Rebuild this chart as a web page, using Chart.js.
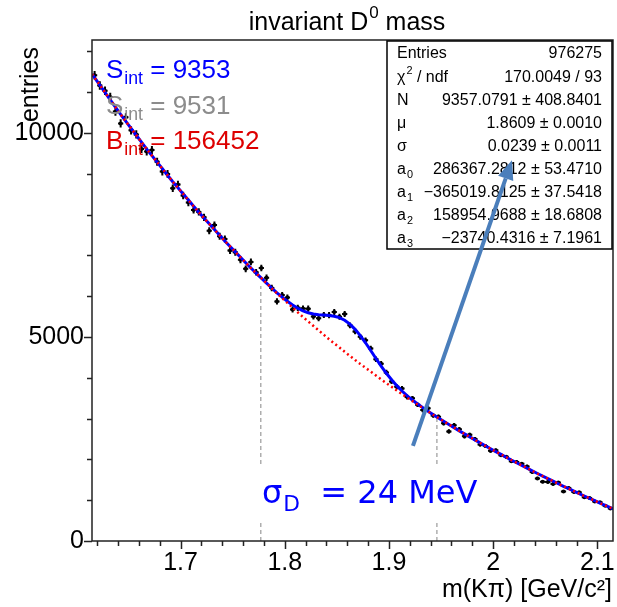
<!DOCTYPE html>
<html>
<head>
<meta charset="utf-8">
<script src="https://cdn.jsdelivr.net/npm/chart.js@4.4.0/dist/chart.umd.min.js"></script>
<style>
    html, body { margin: 0; padding: 0; background: #fff; }
    #wrap { width: 617px; height: 607px; }
</style>
</head>
<body>
<div id="wrap"><canvas id="myChart" width="617" height="607"></canvas></div>
<script>
// histogram: 100 bins of 5 MeV between 1.615 and 2.115 GeV/c^2
var binLow = 1.615
var binWidth = 0.005
var nBins = 100

var entries = [
    11416, 11166, 11036, 10885, 10525, 10235, 10385, 10065, 9965, 9606,
    9546, 9586, 9296, 9056, 8996, 8647, 8737, 8467, 8296, 8116,
    8066, 7935, 7604, 7743, 7472, 7401, 7119, 7077, 6894, 6672,
    6840, 6586, 6692, 6451, 6201, 5873, 6027, 5966, 5675, 5715,
    5699, 5695, 5505, 5458, 5538, 5536, 5610, 5495, 5562, 5286,
    5138, 5004, 4919, 4719, 4454, 4345, 4131, 3912, 3778, 3737,
    3529, 3496, 3340, 3209, 3252, 3075, 3044, 2886, 2687, 2839,
    2740, 2566, 2602, 2498, 2364, 2331, 2211, 2222, 2102, 2063,
    1953, 1937, 1891, 1825, 1689, 1534, 1451, 1448, 1396, 1433,
    1211, 1302, 1202, 1193, 1073, 1054, 967, 950, 863, 796
]

// fit curves, sampled at the lower edge, every bin centre, and the upper edge
var fitBackground = [
    11446,
    11356, 11176, 10996, 10815, 10635, 10455, 10285, 10115, 9945, 9776,
    9606, 9446, 9286, 9126, 8966, 8807, 8657, 8507, 8356, 8206,
    8056, 7915, 7774, 7633, 7492, 7351, 7219, 7087, 6954, 6822,
    6690, 6566, 6442, 6318, 6194, 6070, 5954, 5837, 5721, 5605,
    5489, 5380, 5271, 5162, 5054, 4945, 4843, 4741, 4639, 4537,
    4436, 4340, 4245, 4150, 4054, 3959, 3869, 3780, 3691, 3601,
    3512, 3428, 3344, 3260, 3177, 3093, 3014, 2936, 2857, 2779,
    2700, 2626, 2552, 2478, 2404, 2331, 2261, 2192, 2122, 2053,
    1983, 1917, 1851, 1785, 1719, 1654, 1591, 1528, 1466, 1403,
    1341, 1282, 1222, 1163, 1103, 1044, 987, 930, 873, 816,
    788
]
var fitTotal = [
    11446,
    11356, 11176, 10996, 10815, 10635, 10455, 10285, 10115, 9945, 9776,
    9606, 9446, 9286, 9126, 8966, 8807, 8657, 8507, 8356, 8206,
    8056, 7915, 7774, 7633, 7492, 7351, 7219, 7087, 6954, 6822,
    6690, 6566, 6442, 6321, 6201, 6083, 5977, 5876, 5785, 5705,
    5639, 5595, 5565, 5548, 5538, 5526, 5510, 5475, 5412, 5316,
    5188, 5034, 4859, 4669, 4474, 4285, 4111, 3952, 3808, 3677,
    3559, 3456, 3360, 3269, 3182, 3095, 3014, 2936, 2857, 2779,
    2700, 2626, 2552, 2478, 2404, 2331, 2261, 2192, 2122, 2053,
    1983, 1917, 1851, 1785, 1719, 1654, 1591, 1528, 1466, 1403,
    1341, 1282, 1222, 1163, 1103, 1044, 987, 930, 873, 816,
    788
]

// dashed window lines
var windowX = [1.777, 1.946]
var windowTop = [6250, 3050]

var xMin = 1.615
var xMax = 2.115
var yMin = 0
var yMax = 12280
var xTicks = [1.7, 1.8, 1.9, 2, 2.1]
var xMinorStep = 0.02
var yTicks = [0, 5000, 10000]
var yMinorStep = 1000

var statsNames = ["Entries", "χ|2| / ndf", "N", "μ", "σ", "a_0", "a_1", "a_2", "a_3"]
var statsValues = ["976275", "170.0049 / 93", "9357.0791 ± 408.8401", "1.8609 ± 0.0010",
    "0.0239 ± 0.0011", "286367.2812 ± 53.4710", "−365019.8125 ± 37.5418",
    "158954.9688 ± 18.6808", "−23740.4316 ± 7.1961"]

var integralNames = ["S", "S", "B"]
var integralValues = [9353, 9531, 156452]
var integralColors = ["#0000ff", "#8c8c8c", "#dd0000"]

// arrow annotation, in data units (tail, head)
var arrowX = [1.923, 2.018]
var arrowY = [2330, 9330]

var font = "'Liberation Sans', Arial, Helvetica, sans-serif"

var binCenters = []
for (i = 0; i < nBins; i++) {
    binCenters.push(binLow + binWidth * (i + 0.5))
}
var curveX = [binLow].concat(binCenters, [binLow + binWidth * nBins])

function pts(xs, ys) {
    return xs.map(function (x, k) { return { x: x, y: ys[k] } })
}

// draws text made of pieces; a piece is {t, sub} or {t, sup}
function drawParts(ctx, parts, x, y, size, family, color, align) {
    var total = 0
    parts.forEach(function (p) {
        ctx.font = (p.sub || p.sup ? size * 0.68 : size) + "px " + family
        p.w = ctx.measureText(p.t).width + (p.gap || 0)
        total += p.w
    })
    var cx = x
    if (align === "center") cx = x - total / 2
    if (align === "right") cx = x - total
    ctx.fillStyle = color
    ctx.textBaseline = "middle"
    ctx.textAlign = "left"
    parts.forEach(function (p) {
        ctx.font = (p.sub || p.sup ? size * 0.68 : size) + "px " + family
        var dy = p.sub ? size * 0.32 : (p.sup ? -size * 0.38 : 0)
        ctx.fillText(p.t, cx + (p.gap || 0), y + dy)
        cx += p.w
    })
}

function parseName(s) {
    // "a_0" -> subscript, "χ|2| / ndf" -> superscript
    if (s.indexOf("_") > 0) {
        var a = s.split("_")
        return [{ t: a[0] }, { t: a[1], sub: true, gap: 1 }]
    }
    if (s.indexOf("|") > 0) {
        var b = s.split("|")
        return [{ t: b[0] }, { t: b[1], sup: true, gap: 1 }, { t: b[2] }]
    }
    return [{ t: s }]
}

var rootStyle = {
    id: "rootStyle",
    afterDatasetDraw: function (chart, args) {
        if (args.index !== 0) return
        // error bars of the histogram
        var ctx = chart.ctx, xs = chart.scales.x, ys = chart.scales.y
        ctx.save()
        ctx.strokeStyle = "#000"
        ctx.lineWidth = 2
        ctx.beginPath()
        for (i = 0; i < nBins; i++) {
            var c = binCenters[i], v = entries[i], e = Math.sqrt(v)
            var py = ys.getPixelForValue(v)
            ctx.moveTo(xs.getPixelForValue(c - binWidth / 2), py)
            ctx.lineTo(xs.getPixelForValue(c + binWidth / 2), py)
            ctx.moveTo(xs.getPixelForValue(c), ys.getPixelForValue(v + e))
            ctx.lineTo(xs.getPixelForValue(c), ys.getPixelForValue(v - e))
        }
        ctx.stroke()
        ctx.restore()
    },
    afterDraw: function (chart) {
        var ctx = chart.ctx, xs = chart.scales.x, ys = chart.scales.y
        var area = chart.chartArea
        ctx.save()

        // frame and ticks
        ctx.strokeStyle = "#222"
        ctx.lineWidth = 1.5
        ctx.strokeRect(area.left, area.top, area.right - area.left, area.bottom - area.top)
        ctx.beginPath()
        for (v = 1.62; v < xMax; v += xMinorStep) {
            var px = Math.round(xs.getPixelForValue(v)) + 0.5
            var major = xTicks.some(function (t) { return Math.abs(t - v) < 1e-6 })
            ctx.moveTo(px, area.bottom)
            ctx.lineTo(px, area.bottom + (major ? 8 : 5))
        }
        for (v = 0; v < yMax; v += yMinorStep) {
            var py = Math.round(ys.getPixelForValue(v)) + 0.5
            var majorY = yTicks.indexOf(v) >= 0
            ctx.moveTo(area.left, py)
            ctx.lineTo(area.left - (majorY ? 8 : 5), py)
        }
        ctx.stroke()

        // title and axis titles
        drawParts(ctx, [{ t: "invariant D" }, { t: "0", sup: true, gap: 1 }, { t: " mass" }],
            347, 23, 25, font, "#000", "center")
        ctx.fillStyle = "#000"
        ctx.font = "25px " + font
        ctx.textBaseline = "middle"
        ctx.textAlign = "right"
        ctx.fillText("m(Kπ) [GeV/c²]", 612, 590)
        ctx.save()
        ctx.translate(31, 47)
        ctx.rotate(-Math.PI / 2)
        ctx.textAlign = "right"
        ctx.fillText("entries", 0, 0)
        ctx.restore()

        // integrals
        for (k = 0; k < integralNames.length; k++) {
            drawParts(ctx, [{ t: integralNames[k] }, { t: "int", sub: true, gap: 1 }, { t: " = " + integralValues[k] }],
                106, 71 + 35.5 * k, 26, font, integralColors[k], "left")
        }

        // stats box
        var bx = 387, by = 41, bw = 225, bh = 208
        ctx.fillStyle = "#fff"
        ctx.fillRect(bx, by, bw, bh)
        ctx.strokeStyle = "#000"
        ctx.lineWidth = 1.5
        ctx.strokeRect(bx, by, bw, bh)
        for (k = 0; k < statsNames.length; k++) {
            var ry = 54 + 23.1 * k
            drawParts(ctx, parseName(statsNames[k]), 397, ry, 16, font, "#000", "left")
            drawParts(ctx, [{ t: statsValues[k] }], 602, ry, 16, font, "#000", "right")
        }

        // sigma_D label on a white box
        ctx.fillStyle = "#fff"
        ctx.fillRect(252, 464, 236, 57)
        drawParts(ctx, [{ t: "σ" }, { t: "D", sub: true, gap: 1 }, { t: "  = 24 MeV" }],
            262, 495, 32, "'DejaVu Sans', Verdana, sans-serif", "#0000ff", "left")

        // arrow
        var x0 = xs.getPixelForValue(arrowX[0]), y0 = ys.getPixelForValue(arrowY[0])
        var x1 = xs.getPixelForValue(arrowX[1]), y1 = ys.getPixelForValue(arrowY[1])
        var ang = Math.atan2(y1 - y0, x1 - x0)
        var headLen = 19, headW = 8
        var bxh = x1 - headLen * Math.cos(ang), byh = y1 - headLen * Math.sin(ang)
        ctx.strokeStyle = "#4a7ebb"
        ctx.fillStyle = "#4a7ebb"
        ctx.lineWidth = 4
        ctx.beginPath()
        ctx.moveTo(x0, y0)
        ctx.lineTo(bxh, byh)
        ctx.stroke()
        ctx.beginPath()
        ctx.moveTo(x1, y1)
        ctx.lineTo(bxh + headW * Math.sin(ang), byh - headW * Math.cos(ang))
        ctx.lineTo(bxh - headW * Math.sin(ang), byh + headW * Math.cos(ang))
        ctx.closePath()
        ctx.fill()

        ctx.restore()
    }
}

function setup() {
    var datasets = [{
        label: "data",
        data: pts(binCenters, entries),
        showLine: false,
        pointRadius: 2,
        pointBackgroundColor: "#000",
        pointBorderColor: "#000",
        pointBorderWidth: 0,
        order: 4
    }]
    for (k = 0; k < windowX.length; k++) {
        datasets.push({
            label: "window" + k,
            data: pts([windowX[k], windowX[k]], [0, windowTop[k]]),
            borderColor: "#9a9a9a",
            borderWidth: 1.2,
            borderDash: [4, 3],
            pointRadius: 0,
            order: 3
        })
    }
    datasets.push({
        label: "total fit",
        data: pts(curveX, fitTotal),
        borderColor: "#0000ff",
        borderWidth: 3,
        pointRadius: 0,
        tension: 0,
        order: 1
    })
    datasets.push({
        label: "background",
        data: pts(curveX, fitBackground),
        borderColor: "#ff0000",
        borderWidth: 2.5,
        borderDash: [2, 3],
        pointRadius: 0,
        tension: 0,
        order: 0
    })

    new Chart("myChart", {
        type: "line",
        data: { datasets: datasets },
        plugins: [rootStyle],
        options: {
            responsive: false,
            animation: false,
            devicePixelRatio: 1,
            layout: { padding: { left: 0, right: 4, top: 40, bottom: 0 } },
            plugins: { legend: { display: false }, tooltip: { enabled: false } },
            scales: {
                x: {
                    type: "linear",
                    min: xMin,
                    max: xMax,
                    grid: { display: false },
                    border: { display: false },
                    ticks: {
                        color: "#000",
                        font: { family: font, size: 25 },
                        padding: -1,
                        maxRotation: 0,
                        minRotation: 0,
                        callback: function (v) { return String(Math.round(v * 10) / 10) }
                    },
                    afterBuildTicks: function (s) { s.ticks = xTicks.map(function (v) { return { value: v } }) },
                    afterFit: function (s) { s.height = 66; s.paddingLeft = 0; s.paddingRight = 0 }
                },
                y: {
                    type: "linear",
                    min: yMin,
                    max: yMax,
                    grid: { display: false },
                    border: { display: false },
                    ticks: {
                        color: "#000",
                        font: { family: font, size: 25 },
                        padding: 0,
                        callback: function (v) { return String(v) }
                    },
                    afterBuildTicks: function (s) { s.ticks = yTicks.map(function (v) { return { value: v } }) },
                    afterFit: function (s) { s.width = 92; s.paddingTop = 0; s.paddingBottom = 0 }
                }
            }
        }
    })
}

setup()
</script>
</body>
</html>
